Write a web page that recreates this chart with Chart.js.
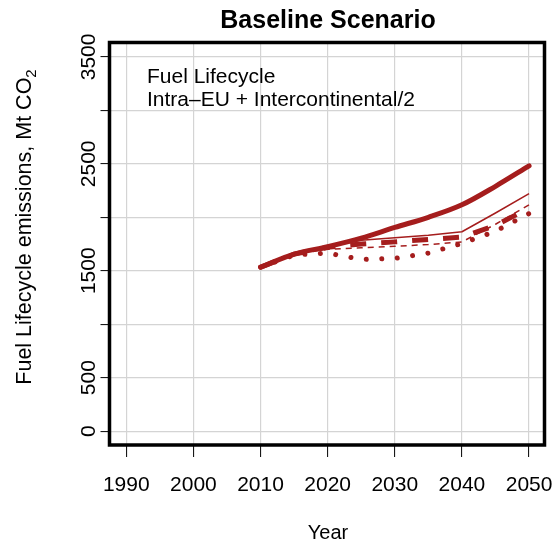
<!DOCTYPE html>
<html>
<head>
<meta charset="utf-8">
<script src="https://cdn.jsdelivr.net/npm/chart.js@4"></script>
<style>
  body { margin: 0; background: #fff; }
  #chart { display: block; }
</style>
</head>
<body>
<canvas id="chart" width="555" height="542"></canvas>
<script>
// Data (Mt CO2, every 5 years)
const years = [2010, 2015, 2020, 2025, 2030, 2035, 2040, 2045, 2050];
const thickSolid  = [1533, 1655, 1725, 1805, 1905, 2000, 2117, 2290, 2481];
const thinSolid   = [1533, 1655, 1725, 1785, 1808, 1832, 1865, 2040, 2222];
const thickDashed = [1533, 1655, 1720, 1750, 1770, 1793, 1815, 1925, 2085];
const thinDashed  = [1533, 1655, 1700, 1714, 1729, 1745, 1770, 1935, 2117];
const dotted      = [1533, 1648, 1665, 1605, 1615, 1665, 1755, 1870, 2035];

const xTicks = [1990, 2000, 2010, 2020, 2030, 2040, 2050];
const yTicks = [0, 500, 1000, 1500, 2000, 2500, 3000, 3500];
const yTickLabels = ['0', '500', '', '1500', '', '2500', '', '3500'];

const lineColor = '#a51d1d';
const font = '"Liberation Sans", Arial, sans-serif';

const toPoints = arr => years.map((x, i) => ({ x: x, y: arr[i] }));

// Text and frame, R style
const textPlugin = {
  id: 'rText',
  afterDraw(chart) {
    const ctx = chart.ctx;
    const a = chart.chartArea;
    const xs = chart.scales.x;
    const ys = chart.scales.y;
    ctx.save();

    // box
    ctx.strokeStyle = '#000';
    ctx.lineWidth = 3.5;
    ctx.strokeRect(a.left, a.top, a.right - a.left, a.bottom - a.top);

    ctx.fillStyle = '#000';
    // title
    ctx.font = 'bold 25px ' + font;
    ctx.textAlign = 'center';
    ctx.textBaseline = 'alphabetic';
    ctx.fillText('Baseline Scenario', 328, 28);

    // x tick labels
    ctx.font = '21px ' + font;
    xTicks.forEach(v => {
      ctx.fillText(String(v), xs.getPixelForValue(v), 491);
    });

    // x title
    ctx.font = '20px ' + font;
    ctx.fillText('Year', 328, 539);

    // y tick labels (rotated)
    ctx.font = '21px ' + font;
    yTicks.forEach((v, i) => {
      if (!yTickLabels[i]) return;
      ctx.save();
      ctx.translate(95, ys.getPixelForValue(v));
      ctx.rotate(-Math.PI / 2);
      ctx.fillText(yTickLabels[i], 0, 0);
      ctx.restore();
    });

    // y title with subscript
    ctx.save();
    ctx.translate(31, 227);
    ctx.rotate(-Math.PI / 2);
    ctx.font = '21.5px ' + font;
    const main = 'Fuel Lifecycle emissions, Mt CO';
    const w1 = ctx.measureText(main).width;
    ctx.font = '15px ' + font;
    const w2 = ctx.measureText('2').width;
    const start = -(w1 + w2) / 2;
    ctx.textAlign = 'left';
    ctx.font = '21.5px ' + font;
    ctx.fillText(main, start, 0);
    ctx.font = '15px ' + font;
    ctx.fillText('2', start + w1, 5);
    ctx.restore();

    // annotation
    ctx.font = '21px ' + font;
    ctx.textAlign = 'left';
    ctx.fillText('Fuel Lifecycle', 147, 83);
    ctx.fillText('Intra\u2013EU + Intercontinental/2', 147, 106);

    ctx.restore();
  }
};

const axisCommon = {
  type: 'linear',
  ticks: { display: false },
  border: { display: false },
  title: { display: false }
};

new Chart(document.getElementById('chart'), {
  type: 'line',
  data: {
    datasets: [
      { data: toPoints(thickSolid), borderColor: lineColor, borderWidth: 5, borderCapStyle: 'round', cubicInterpolationMode: 'monotone' },
      { data: toPoints(thinSolid), borderColor: lineColor, borderWidth: 1.5 },
      { data: toPoints(thickDashed), borderColor: lineColor, borderWidth: 5, borderDash: [16, 15] },
      { data: toPoints(thinDashed), borderColor: lineColor, borderWidth: 1.5, borderDash: [6, 5] },
      { data: toPoints(dotted), borderColor: lineColor, borderWidth: 5, borderDash: [0.01, 15.5], borderCapStyle: 'round' }
    ]
  },
  options: {
    responsive: false,
    animation: false,
    layout: { padding: { left: 100.5, top: 42.5, right: 10.5, bottom: 85 } },
    elements: { point: { radius: 0 }, line: { tension: 0, fill: false, borderJoinStyle: 'round' } },
    plugins: { legend: { display: false }, tooltip: { enabled: false } },
    scales: {
      x: Object.assign({}, axisCommon, {
        min: 1987.5, max: 2052.3,
        afterBuildTicks: s => { s.ticks = xTicks.map(v => ({ value: v })); },
        grid: { color: '#d4d4d4', lineWidth: 1.2, tickColor: '#000', tickWidth: 1, tickLength: 12 }
      }),
      y: Object.assign({}, axisCommon, {
        min: -130, max: 3635,
        afterBuildTicks: s => { s.ticks = yTicks.map(v => ({ value: v })); },
        grid: { color: '#d4d4d4', lineWidth: 1.2, tickColor: '#000', tickWidth: 1, tickLength: 9 }
      })
    }
  },
  plugins: [textPlugin]
});
</script>
</body>
</html>
